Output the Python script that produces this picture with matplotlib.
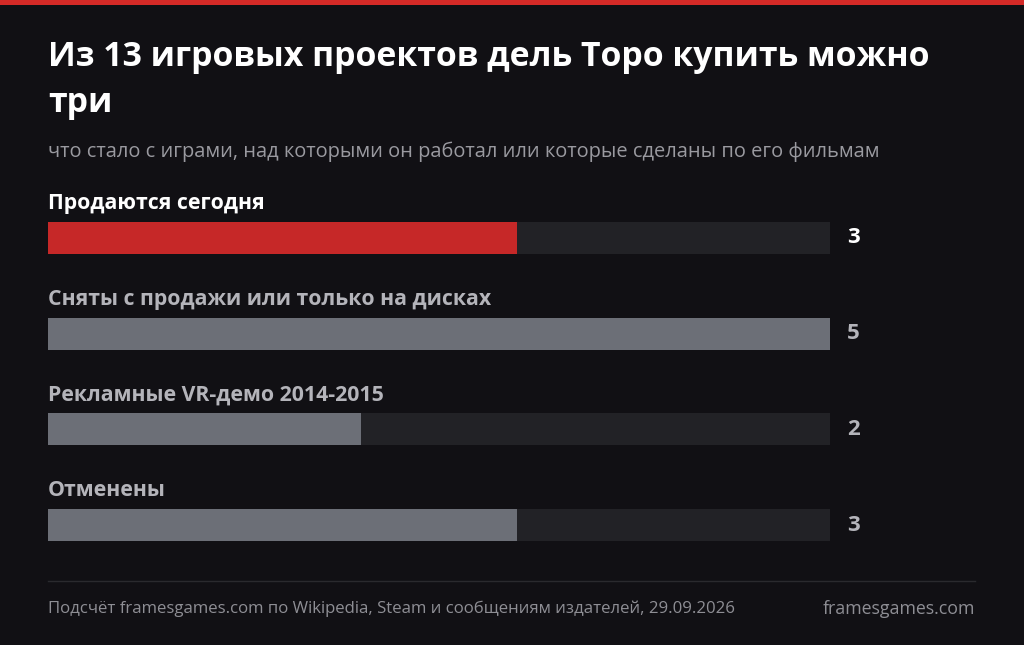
import matplotlib
matplotlib.use("Agg")
import matplotlib.pyplot as plt
from matplotlib.patches import Rectangle

plt.rcParams['font.family'] = ['Open Sans', 'DejaVu Sans']

title = "Из 13 игровых проектов дель Торо купить можно\nтри"
subtitle = "что стало с играми, над которыми он работал или которые сделаны по его фильмам"
categories = ["Продаются сегодня", "Сняты с продажи или только на дисках",
              "Рекламные VR-демо 2014-2015", "Отменены"]
values = [3, 5, 2, 3]
max_value = 5
footer_left = "Подсчёт framesgames.com по Wikipedia, Steam и сообщениям издателей, 29.09.2026"
footer_right = "framesgames.com"

BG = "#111014"
RED = "#c62828"
GRAY = "#6c6f77"
TRACK = "#222226"

W, H = 1024, 645
fig = plt.figure(figsize=(W/100, H/100), dpi=100, facecolor=BG)

def fx(p): return p / W
def fy(p): return 1 - p / H

fig.add_artist(Rectangle((0, fy(5)), 1, 5/H, transform=fig.transFigure, color="#d42a27", lw=0))

t1, t2 = title.split("\n")
fig.text(fx(48), fy(57), t1, color="white", fontsize=24.4, fontweight="bold", va="center", ha="left")
fig.text(fx(48), fy(103), t2, color="white", fontsize=24.4, fontweight="bold", va="center", ha="left")
fig.text(fx(48), fy(152), subtitle, color="#9a9aa0", fontsize=14.4, va="center", ha="left")

ax = fig.add_axes([fx(48), fy(573), (830-48)/W, (573-190)/H])
ax.set_facecolor(BG)
ax.set_xlim(0, max_value)
ax.set_ylim(3.5, -0.5)
ax.axis("off")
bh = 32/95.67
for i, (c, v) in enumerate(zip(categories, values)):
    ax.barh(i, max_value, height=bh, color=TRACK, left=0)
    ax.barh(i, v, height=bh, color=RED if i == 0 else GRAY)
    ax.text(0, i - 0.36, c, color="white" if i == 0 else "#b4b4ba", fontsize=15.3,
            fontweight="bold", va="center", ha="left")
    ax.text(max_value * (847-48)/782, i, str(v), color="white" if i == 0 else "#b4b4ba",
            fontsize=16, fontweight="bold", va="center", ha="left", clip_on=False)

fig.add_artist(plt.Line2D([fx(48), fx(975)], [fy(581), fy(581)], transform=fig.transFigure,
                          color="#2a2a2e", lw=1))
fig.text(fx(48), fy(609), footer_left, color="#8e8e94", fontsize=12.1, va="center", ha="left")
fig.text(fx(975), fy(609), footer_right, color="#8e8e94", fontsize=12.8, va="center", ha="right")

fig.savefig("out.png", dpi=100, facecolor=BG)
